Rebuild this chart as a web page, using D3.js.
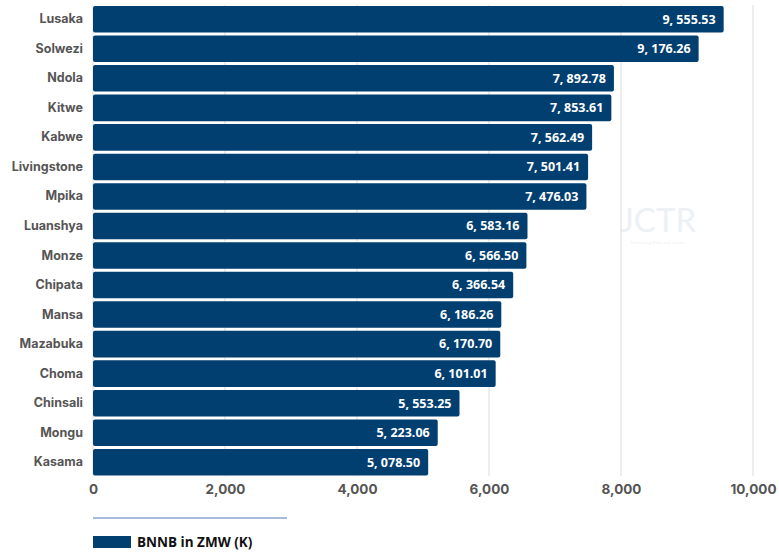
<!DOCTYPE html>
<html>
<head>
<meta charset="utf-8">
<script src="https://cdn.jsdelivr.net/npm/d3@7"></script>
<style>
  html, body { margin: 0; padding: 0; background: #fff; }
  svg { display: block; }
</style>
</head>
<body>
<svg id="chart" width="779" height="552"></svg>
<script>
// Basic needs and nutrition basket (BNNB) by town, in ZMW
const towns = ["Lusaka", "Solwezi", "Ndola", "Kitwe", "Kabwe", "Livingstone", "Mpika",
  "Luanshya", "Monze", "Chipata", "Mansa", "Mazabuka", "Choma", "Chinsali", "Mongu", "Kasama"];
const bnnb = [9555.53, 9176.26, 7892.78, 7853.61, 7562.49, 7501.41, 7476.03,
  6583.16, 6566.50, 6366.54, 6186.26, 6170.70, 6101.01, 5553.25, 5223.06, 5078.50];
const xTicks = [0, 2000, 4000, 6000, 8000, 10000];
const seriesName = "BNNB in ZMW (K)";

const barColor = "#023f71";
const svg = d3.select("#chart");

const x = d3.scaleLinear().domain([0, 10000]).range([93, 753]);
const y = d3.scaleBand().domain(towns).range([4.5, 477]).paddingInner(0.1).paddingOuter(0.05);

// watermark
const wm = svg.append("g").attr("fill", "#edf0f4");
wm.append("text").attr("x", 658).attr("y", 232).attr("text-anchor", "middle")
  .attr("font-family", "Lato, sans-serif").attr("font-size", 33).attr("font-weight", 400)
  .text("JCTR");
wm.append("text").attr("x", 658).attr("y", 244).attr("text-anchor", "middle")
  .attr("font-family", "Lato, sans-serif").attr("font-size", 4.5)
  .text("Promoting Faith and Justice");

// vertical grid lines
svg.append("g").selectAll("line").data(xTicks).join("line")
  .attr("x1", d => x(d)).attr("x2", d => x(d))
  .attr("y1", 5).attr("y2", 476)
  .attr("stroke", "#dcdcdc").attr("stroke-width", 1);

// bars
svg.append("g").selectAll("rect").data(bnnb).join("rect")
  .attr("x", x(0))
  .attr("y", (d, i) => y(towns[i]))
  .attr("width", d => x(d) - x(0))
  .attr("height", y.bandwidth())
  .attr("rx", 2)
  .attr("fill", barColor);

// value labels
const fmt = d3.format(",.2f");
svg.append("g").selectAll("text").data(bnnb).join("text")
  .attr("x", d => x(d) - 8)
  .attr("y", (d, i) => y(towns[i]) + y.bandwidth() / 2)
  .attr("dy", "0.35em")
  .attr("text-anchor", "end")
  .attr("fill", "#fff")
  .attr("font-family", "'Open Sans', sans-serif")
  .attr("font-weight", 700)
  .attr("font-size", 12.5)
  .text(d => fmt(d).replace(",", ", "));

// category axis
const yAxis = svg.append("g")
  .attr("transform", `translate(${x(0)},0)`)
  .call(d3.axisLeft(y).tickSize(0).tickPadding(10));
yAxis.select(".domain").remove();
yAxis.selectAll("text")
  .attr("font-family", "Inter, sans-serif")
  .attr("font-weight", 700)
  .attr("font-size", 12.5)
  .attr("fill", "#555");

// value axis
const xAxis = svg.append("g")
  .attr("transform", "translate(0,476)")
  .call(d3.axisBottom(x).tickValues(xTicks).tickFormat(d3.format(",")).tickSize(0).tickPadding(8));
xAxis.select(".domain").remove();
xAxis.selectAll("text")
  .attr("font-family", "Inter, sans-serif")
  .attr("font-weight", 700)
  .attr("font-size", 13.5)
  .attr("fill", "#555");

// legend
svg.append("line").attr("x1", 93).attr("x2", 287).attr("y1", 518).attr("y2", 518)
  .attr("stroke", "#86a9ce").attr("stroke-width", 1.3);
svg.append("rect").attr("x", 93).attr("y", 536).attr("width", 38).attr("height", 12)
  .attr("fill", barColor);
svg.append("text").attr("x", 137).attr("y", 542).attr("dy", "0.35em")
  .attr("font-family", "'Open Sans', sans-serif").attr("font-weight", 700)
  .attr("font-size", 13.5).attr("fill", "#111")
  .text(seriesName);
</script>
</body>
</html>
